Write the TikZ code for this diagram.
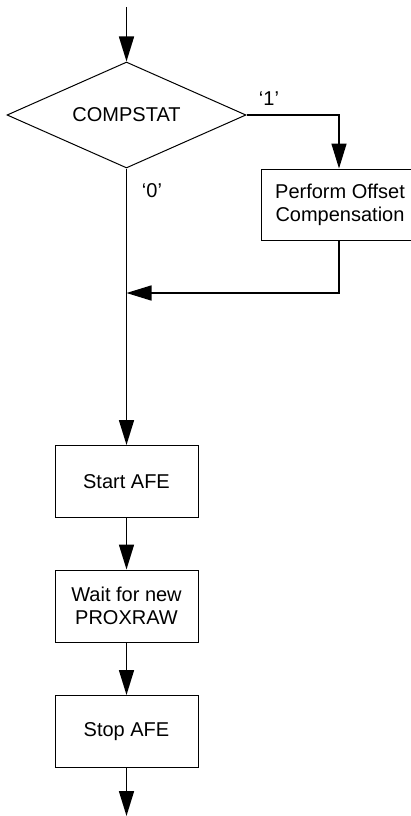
\documentclass[tikz,border=0pt]{standalone}
\usepackage{fontspec}
\setmainfont{Liberation Sans}
\usetikzlibrary{arrows.meta,shapes.geometric}
\begin{document}
\begin{tikzpicture}[x=1pt,y=-1pt,
  every node/.style={font=\fontsize{20}{23}\selectfont, text=black},
  procbox/.style={draw, line width=1pt, rectangle, inner sep=0pt, align=center,
    minimum width=143pt, minimum height=72pt},
  decision/.style={draw, line width=1pt, diamond, inner sep=0pt, aspect=2.25,
    minimum width=239pt, minimum height=106pt},
  conn/.style={line width=1.6pt, -{Triangle[length=25pt,width=15pt]}},
  lbl/.style={inner sep=0pt}
]
\useasboundingbox (0,0) rectangle (411,816);
\clip (0,0) rectangle (411,816);

\coordinate (top) at (126.5,7);
\coordinate (bottom) at (126.5,816);
\coordinate (merge) at (126.5,293);

\node[decision] (dec) at (126.5,115) {COMPSTAT};
\node[procbox, minimum width=180pt, minimum height=71pt] (perf) at (351,204.5) {};
\node[inner sep=0pt, align=center] (perftext) at (340,204.5) {Perform Offset\\Compensation};
\node[procbox] (start) at (126.5,481.5) {Start AFE};
\node[procbox] (wait) at (126.5,606) {Wait for new\\PROXRAW};
\node[procbox] (stop) at (126.5,731.5) {Stop AFE};

\node[lbl] (one) at (269,99) {`1'};
\node[lbl] (zero) at (152,191) {`0'};

\draw[conn] (dec.east) -| ([xshift=-12pt]perf.north);
\draw[conn] (top) -- (dec.north);
\draw[conn] (dec.south) -- (start.north);
\draw[conn] ([xshift=-12pt]perf.south) |- (merge);
\draw[conn] (start.south) -- (wait.north);
\draw[conn] (wait.south) -- (stop.north);
\draw[conn] (stop.south) -- (bottom);
\end{tikzpicture}
\end{document}
